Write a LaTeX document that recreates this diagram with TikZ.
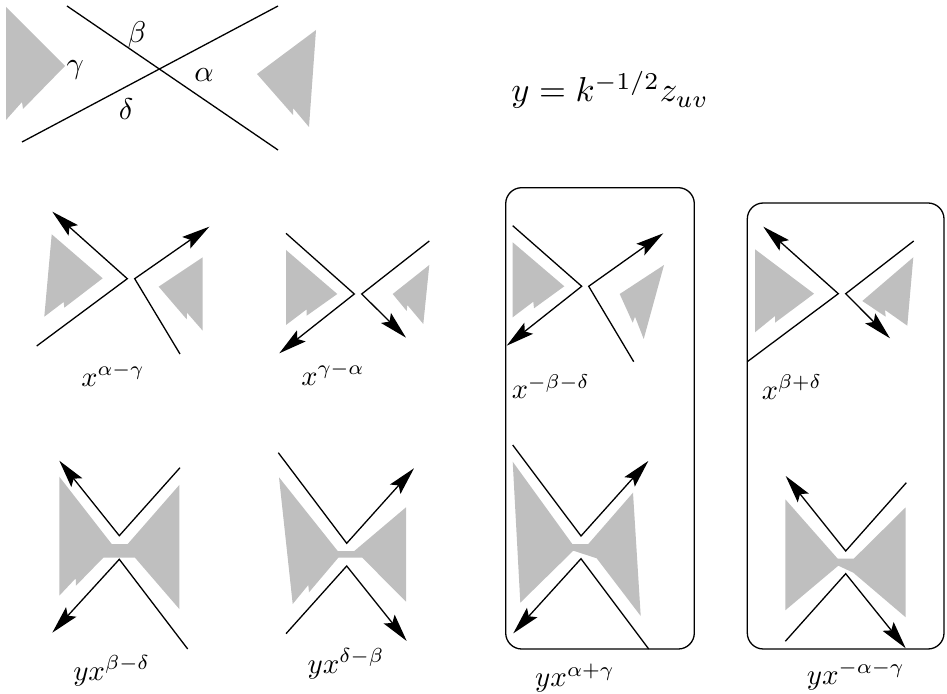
\documentclass[tikz,border=0pt]{standalone}
\usetikzlibrary{arrows.meta}
\definecolor{shade}{HTML}{BFBFBF}
\tikzset{
  x=0.5pt,y=-0.5pt,
  curve/.style={line width=0.65pt,line cap=butt,line join=miter},
  tip/.style={curve,-{Stealth[length=14pt,width=7pt,inset=2.5pt]}},
  region/.style={fill=shade,draw=none},
  frame/.style={line width=0.65pt,rounded corners=8pt},
  txt/.style={inner sep=0pt,outer sep=0pt,anchor=center},
  glab/.style={txt,scale=1.5},
  lab/.style={txt,scale=1.42},
  ylab/.style={txt,scale=1.45},
  eqlab/.style={txt,scale=1.73},
}
\begin{document}
\begin{tikzpicture}
\useasboundingbox (0,0) rectangle (947,694);
% top panel
\fill[region] (6,7)--(65,66)--(23,109)--(22,102)--(6,120)--cycle;
\fill[region] (316,30)--(257,74)--(293,115)--(293,108)--(309,127)--cycle;
\draw[curve] (67,6)--(278,150);
\draw[curve] (22,142)--(278,6);
\node[glab] (beta) at (137,35) {$\beta$};
\node[glab] (gamma) at (75.3,69.7) {$\gamma$};
\node[glab] (alpha) at (204,75) {$\alpha$};
\node[glab] (delta) at (126,109) {$\delta$};
\node[eqlab] (eqn) at (610,90) {$y=k^{-1/2}z_{uv}$};
% frames
\draw[frame] (505.7,187.7) rectangle (694.3,649);
\draw[frame] (747.3,203) rectangle (944,649);
% x^{alpha-gamma}
\fill[region] (51.7,234.3)--(102.7,278.3)--(64.3,307.7)--(63.7,302)--(44.3,316.7)--cycle;
\fill[region] (202.7,257.3)--(158.7,286.7)--(186.7,319.3)--(187,312.7)--(202.7,330.7)--cycle;
\draw[tip] (36.7,346)--(127.3,278.7)--(52.3,211.7);
\draw[tip] (180,354)--(134.7,278.7)--(209.3,226.7);
\node[lab] (a) at (113,375) {$x^{\alpha-\gamma}$};
% x^{gamma-alpha}
\fill[region] (286,250)--(337.3,294)--(306.7,315.7)--(306.7,309.3)--(286,325)--cycle;
\fill[region] (429.3,265)--(392.7,294)--(406.7,311)--(407.3,305)--(423.3,324)--cycle;
\draw[tip] (286,233.3)--(354.3,294)--(279.3,353.3);
\draw[tip] (429.3,241)--(361.7,294)--(406,337.7);
\node[lab] (b) at (333,374) {$x^{\gamma-\alpha}$};
% x^{-beta-delta}
\fill[region] (512.7,242.3)--(564.3,286.3)--(534,308.3)--(533.3,301.7)--(512.7,317.3)--cycle;
\fill[region] (664,265)--(619.7,294)--(632.7,322.7)--(635,316.7)--(643.7,339)--cycle;
\draw[tip] (512.7,225.7)--(581.7,286.3)--(506.7,345.7);
\draw[tip] (633.7,361.7)--(588.7,286.3)--(663.3,233.3);
\node[lab] (c) at (550.8,386.7) {$x^{-\beta-\delta}$};
% x^{beta+delta}
\fill[region] (755,249.3)--(814,293.7)--(775,322.7)--(775,316)--(755,332.3)--cycle;
\fill[region] (913.3,257.3)--(862.3,301)--(885.7,316.7)--(885,310)--(907.3,325.7)--cycle;
\draw[tip] (747.3,361.7)--(838.3,293.7)--(763.3,226.7);
\draw[tip] (913.7,241)--(845.7,293.7)--(890,338.3);
\node[lab] (d) at (792,387) {$x^{\beta+\delta}$};
% y x^{beta-delta}
\fill[region] (59.3,476.7)--(111.7,544)--(127.7,544)--(179.3,485)--(179.3,609)--(135,557.7)--(103.3,557.7)--(76,585.7)--(75.7,578.3)--(59.3,595.7)--cycle;
\draw[tip] (180,467.7)--(119.3,535.7)--(59.3,460.7);
\draw[tip] (187.7,649)--(119.3,559.3)--(52.3,632.7);
\node[ylab] (e) at (111.7,670.7) {$yx^{\beta-\delta}$};
% y x^{delta-beta}
\fill[region] (279,477.3)--(337.7,551)--(354.3,551)--(406,507.3)--(406,601.7)--(362.3,557.7)--(338.3,557.7)--(309,592.3)--(308.3,585)--(292.7,604)--cycle;
\draw[tip] (278.3,452.7)--(346.7,543.3)--(414,468.3);
\draw[tip] (286,633.7)--(346.7,566)--(406.7,641);
\node[ylab] (f) at (346,664) {$yx^{\delta-\beta}$};
% y x^{alpha+gamma}
\fill[region] (512.7,461.7)--(572.3,544)--(588.3,544)--(633,492.7)--(640.7,616)--(596.7,558.3)--(573.3,550.7)--(520.3,602.7)--cycle;
\draw[tip] (512.7,445)--(581,536)--(648.3,461);
\draw[tip] (648.7,649)--(581,558.7)--(513.3,633.3);
\node[ylab] (g) at (575,678) {$yx^{\alpha+\gamma}$};
% y x^{-alpha-gamma}
\fill[region] (785.3,499.3)--(837.7,558.7)--(853.7,558.7)--(905.7,507.3)--(905.7,617.3)--(853.3,572.7)--(838.3,565.7)--(785.3,610.3)--cycle;
\draw[tip] (906.3,482.7)--(845.7,551)--(785.7,476);
\draw[tip] (785.3,641.3)--(845.7,573.7)--(905.7,648.3);
\node[ylab] (h) at (855.8,675.7) {$yx^{-\alpha-\gamma}$};
\end{tikzpicture}
\end{document}
